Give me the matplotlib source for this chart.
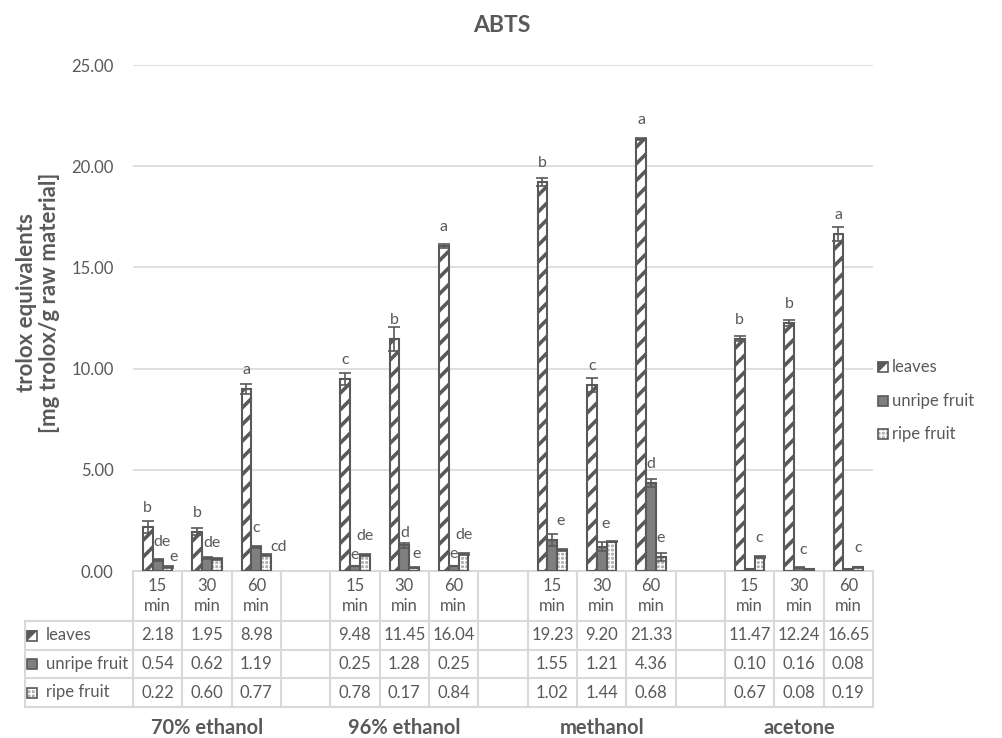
import numpy as np
import matplotlib
matplotlib.use('Agg')
import matplotlib.pyplot as plt
import matplotlib.transforms as mtransforms
from matplotlib.patches import Rectangle
from matplotlib.lines import Line2D

plt.rcParams['font.family'] = ['Lato', 'DejaVu Sans']

# data
solvents = ['70% ethanol', '96% ethanol', 'methanol', 'acetone']
times = ['15\nmin', '30\nmin', '60\nmin']
series = ['leaves', 'unripe fruit', 'ripe fruit']

leaves = [2.18, 1.95, 8.98, 9.48, 11.45, 16.04, 19.23, 9.20, 21.33, 11.47, 12.24, 16.65]
unripe = [0.54, 0.62, 1.19, 0.25, 1.28, 0.25, 1.55, 1.21, 4.36, 0.10, 0.16, 0.08]
ripe = [0.22, 0.60, 0.77, 0.78, 0.17, 0.84, 1.02, 1.44, 0.68, 0.67, 0.08, 0.19]

leaves_err = [0.30, 0.15, 0.25, 0.30, 0.60, 0.10, 0.20, 0.35, 0.05, 0.12, 0.15, 0.35]
unripe_err = [0.05, 0.05, 0.05, 0.02, 0.12, 0.02, 0.30, 0.20, 0.20, 0.02, 0.02, 0.02]
ripe_err = [0.05, 0.05, 0.05, 0.05, 0.02, 0.05, 0.05, 0.02, 0.20, 0.05, 0.02, 0.02]

leaves_lbl = ['b', 'b', 'a', 'c', 'b', 'a', 'b', 'c', 'a', 'b', 'b', 'a']
unripe_lbl = ['de', 'de', 'c', 'e', 'd', 'e', 'e', '', 'd', '', 'c', '']
ripe_lbl = ['e', '', 'cd', 'de', 'e', 'de', '', 'e', 'e', 'c', '', 'c']

GRAY = '#595959'
GRID = '#d9d9d9'
FS = 12

# manual nudges of letter labels (series, sample) -> (dx, dy) in pixels
nudge = {(1, 0): (4, 18), (2, 0): (6, 10), (1, 1): (5, 15), (2, 2): (12, 8),
         (1, 3): (0, 11), (1, 4): (0, 12), (2, 4): (2, 14), (1, 5): (0, 12),
         (1, 6): (8, 19), (2, 7): (-6, 18), (1, 10): (4, 18)}

# category slots: 3 times per solvent + one empty slot between solvents
slots = []
for i, s in enumerate(solvents):
    slots += [(s, t) for t in times]
    if i < len(solvents) - 1:
        slots.append(None)
xpos = np.array([k for k, c in enumerate(slots) if c is not None])
nslot = len(slots)

W, H = 1003, 738
fig = plt.figure(figsize=(W / 100, H / 100), dpi=100)
ax = fig.add_axes([133 / W, 167 / H, 740 / W, 506 / H])

bw = 0.2
ekw = dict(ecolor=GRAY, elinewidth=1.2, capsize=4, capthick=1.2)

with plt.rc_context({'hatch.linewidth': 2.6}):
    b1 = ax.bar(xpos - bw, leaves, bw, color='white', edgecolor=GRAY, hatch='//',
                linewidth=1.5, yerr=leaves_err, error_kw=ekw, zorder=3)
b2 = ax.bar(xpos, unripe, bw, color='#7f7f7f', edgecolor=GRAY, linewidth=1.5,
            yerr=unripe_err, error_kw=ekw, zorder=3)
with plt.rc_context({'hatch.linewidth': 1.0}):
    b3 = ax.bar(xpos + bw, ripe, bw, color='#b0b0b0', edgecolor='white', hatch='++++',
                linewidth=0, zorder=3)
b3e = ax.bar(xpos + bw, ripe, bw, fill=False, edgecolor=GRAY, linewidth=1.5,
             yerr=ripe_err, error_kw=ekw, zorder=4)

for si, (bars, vals, lbls) in enumerate([(b1, leaves, leaves_lbl), (b2, unripe, unripe_lbl),
                                         (b3, ripe, ripe_lbl)]):
    for j, (r, v, l) in enumerate(zip(bars, vals, lbls)):
        if l:
            dx, dy = nudge.get((si, j), (0, 19))
            ax.annotate(l, (r.get_x() + r.get_width() / 2, v), xytext=(dx * 0.72, dy * 0.72),
                        textcoords='offset points', ha='center', va='center',
                        fontsize=11.5, color=GRAY)

ax.set_ylim(0, 25)
ax.set_xlim(-0.5, nslot - 0.5)
ax.set_yticks(np.arange(0, 25.1, 5))
ax.set_yticklabels(['%.2f' % v for v in np.arange(0, 25.1, 5)])
ax.tick_params(axis='y', length=0, pad=14, labelsize=FS, labelcolor=GRAY)
ax.set_xticks([])
ax.grid(axis='y', color=GRID, linewidth=1.2, zorder=0)
ax.set_axisbelow(True)
for sp in ['top', 'right', 'left']:
    ax.spines[sp].set_visible(False)
ax.spines['bottom'].set_color(GRID)
ax.spines['bottom'].set_linewidth(1.2)

# data table under the axis
tr = mtransforms.blended_transform_factory(ax.transData, ax.transAxes)
def ya(py):
    return (571 - py) / 506.0
rows_py = [571, 621, 650, 678, 707]
x_left = -0.5 - 108 / (740 / nslot)
x_right = nslot - 0.5
lk = dict(color=GRID, linewidth=1.5, transform=tr, clip_on=False)
ax.add_line(Line2D([-0.5, x_right], [ya(571)] * 2, **lk))
for py in rows_py[1:]:
    ax.add_line(Line2D([x_left, x_right], [ya(py)] * 2, **lk))
for k in range(nslot + 1):
    ax.add_line(Line2D([k - 0.5] * 2, [ya(571), ya(707)], **lk))
ax.add_line(Line2D([x_left] * 2, [ya(621), ya(707)], **lk))

for k, c in enumerate(slots):
    if c is None:
        continue
    ax.text(k, ya(596), c[1], transform=tr, ha='center', va='center',
            fontsize=FS, color=GRAY, linespacing=1.3)

table_vals = [leaves, unripe, ripe]
for r, (name, vals) in enumerate(zip(series, table_vals)):
    yc = ya((rows_py[r + 1] + rows_py[r + 2]) / 2)
    for x, v in zip(xpos, vals):
        ax.text(x, yc, '%.2f' % v, transform=tr, ha='center', va='center',
                fontsize=FS, color=GRAY)
    ax.text(-0.5 - 87 / (740 / nslot), yc, name, transform=tr, ha='left',
            va='center', fontsize=FS, color=GRAY)

# legend keys (table row labels and legend)
def key_patches(x, y, s, r):
    h = s * W / H
    if r == 0:
        fig.add_artist(Rectangle((x, y), s, h, facecolor='white', edgecolor=GRAY,
                                 linewidth=1.2, transform=fig.transFigure))
        fig.add_artist(plt.Polygon([(x, y), (x + s, y + h), (x, y + h)], closed=True,
                                   facecolor=GRAY, edgecolor=GRAY, linewidth=0.5,
                                   transform=fig.transFigure))
    elif r == 1:
        fig.add_artist(Rectangle((x, y), s, h, facecolor='#7f7f7f', edgecolor=GRAY,
                                 linewidth=1.2, transform=fig.transFigure))
    else:
        with plt.rc_context({'hatch.linewidth': 1.0}):
            fig.add_artist(Rectangle((x, y), s, h, facecolor='#b0b0b0', edgecolor='white',
                                     hatch='++++', linewidth=0, transform=fig.transFigure))
        fig.add_artist(Rectangle((x, y), s, h, fill=False, edgecolor=GRAY,
                                 linewidth=1.2, transform=fig.transFigure))

for r in range(3):
    pyc = (rows_py[r + 1] + rows_py[r + 2]) / 2
    key_patches(27 / W, 1 - (pyc + 5) / H, 10 / W, r)

# group labels
for i, s in enumerate(solvents):
    ax.text(xpos[3 * i:3 * i + 3].mean(), ya(728), s, transform=tr, ha='center',
            va='center', fontsize=14.5, fontweight='bold', color=GRAY)

# legend on the right
leg_y = [367, 401, 434]
for r, name in enumerate(series):
    key_patches(878 / W, 1 - (leg_y[r] + 5) / H, 10 / W, r)
    fig.text(892 / W, 1 - leg_y[r] / H, name, ha='left', va='center',
             fontsize=FS, color=GRAY)

fig.text(502 / W, 1 - 25 / H, 'ABTS', ha='center', va='center', fontsize=16.5,
         fontweight='bold', color=GRAY)
fig.text(38 / W, 1 - 303 / H, 'trolox equivalents\n[mg trolox/g raw material]',
         ha='center', va='center', rotation=90, fontsize=16, fontweight='bold',
         color=GRAY, linespacing=1.1)

fig.savefig('out.png', dpi=100)
